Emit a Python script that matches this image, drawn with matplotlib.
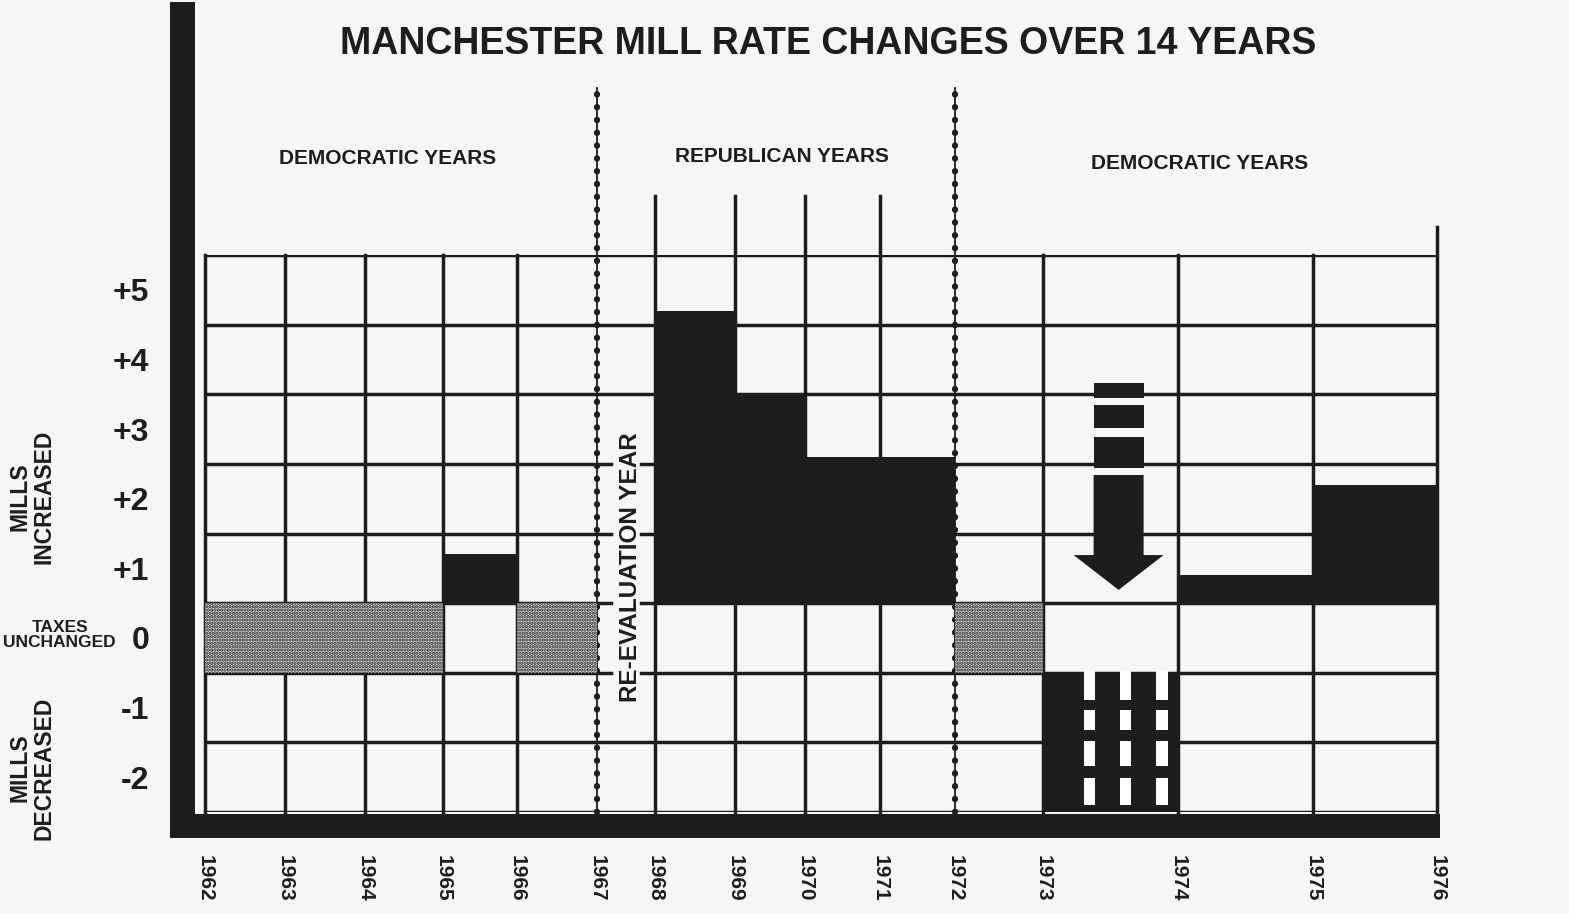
import numpy as np
import matplotlib.pyplot as plt
from matplotlib.patches import Rectangle, Polygon

plt.rcParams['font.family'] = ['Liberation Sans', 'DejaVu Sans']
plt.rcParams['hatch.linewidth'] = 1.6

# data: mill rate change for each year (re-evaluation year has no value)
years = [str(y) for y in range(1962, 1977)]
mill_change = np.array([0, 0, 0, 0.7, 0, np.nan, 4.2, 3.0, 2.1, 2.1, 0, -2.0, 0.4, 1.7])
level_labels = ['-2', '-1', '0', '+1', '+2', '+3', '+4', '+5']
level_ticks = [-2, -1, 0, 1, 2, 3, 4, 5]

# layout: column widths of the printed grid
col_widths = np.array([80, 80, 78, 74, 80, 58, 80, 70, 75, 75, 88, 135, 135, 124])
edges = np.concatenate([[0], np.cumsum(col_widths)])
lefts = edges[:-1]
reeval = 5
party_breaks = [5, 10]

ink = '#1d1d1d'
paper = '#f6f6f4'

fig = plt.figure(figsize=(15.69, 9.14), dpi=100, facecolor=paper)
ax = fig.add_axes([205/1569, 102/914, 1232/1569, 557/914])
ax.set_xlim(0, edges[-1])
ax.set_ylim(-2.5, 5.5)
ax.patch.set_visible(False)
for s in ax.spines.values():
    s.set_visible(False)

# grid
gl = 2.5
for y in np.arange(-2.5, 6, 1.0):
    if -1 < y < 3:
        a, b = edges[reeval], edges[reeval + 1]
        ax.plot([0, a + 14], [y, y], color=ink, lw=gl, zorder=2)
        ax.plot([b - 14, edges[-1]], [y, y], color=ink, lw=gl, zorder=2)
    else:
        ax.plot([0, edges[-1]], [y, y], color=ink, lw=gl, zorder=2)

for i, x in enumerate(edges):
    if i in party_breaks:
        ax.plot([x, x], [-2.5, 7.9], color=ink, lw=1.3, zorder=2, clip_on=False)
        ax.plot([x, x], [-2.5, 7.9], color=ink, lw=4.5, ls=(0, (0.05, 2.0)),
                dash_capstyle='round', zorder=2, clip_on=False)
        continue
    top = 5.5
    if 6 <= i <= 9:
        top = 6.35
    elif i == len(edges) - 1:
        top = 5.9
    ax.plot([x, x], [-2.5, top], color=ink, lw=gl, zorder=2, clip_on=False)

# bars
pos = mill_change > 0
zero = mill_change == 0
neg = mill_change < 0
ax.bar(lefts[pos], mill_change[pos], width=col_widths[pos], bottom=0.5,
       align='edge', color=ink, zorder=3)
ax.bar(lefts[zero], 1.0, width=col_widths[zero], bottom=-0.5, align='edge',
       facecolor='#cfcfcf', edgecolor='#2a2a2a', hatch='.....', lw=0, zorder=3)
ax.bar(lefts[neg], mill_change[neg], width=col_widths[neg], bottom=-0.5,
       align='edge', color=ink, zorder=3)

# windows in the decrease bar and the arrow above it
for i in np.where(neg)[0]:
    x0, w = lefts[i], col_widths[i]
    for fx in (0.3, 0.57, 0.84):
        for y0, y1 in ((-0.89, -0.47), (-1.32, -1.03), (-1.84, -1.48), (-2.40, -2.01)):
            ax.add_patch(Rectangle((x0 + fx * w, y0), 0.085 * w, y1 - y0,
                                   facecolor='white', lw=0, zorder=4))
    cx = x0 + 0.56 * w
    for y0, y1 in ((3.45, 3.66), (3.01, 3.35), (2.44, 2.88)):
        ax.add_patch(Rectangle((cx - 25, y0), 50, y1 - y0, facecolor=ink, lw=0, zorder=4))
    ax.add_patch(Polygon([(cx - 25, 2.34), (cx + 25, 2.34), (cx + 25, 1.19),
                          (cx + 45, 1.19), (cx, 0.69), (cx - 45, 1.19), (cx - 25, 1.19)],
                         closed=True, facecolor=ink, lw=0, zorder=4))

# heavy frame
ax.add_patch(Rectangle((-35, -2.87), 25, 12.0, facecolor=ink, lw=0, zorder=5, clip_on=False))
ax.add_patch(Rectangle((-22, -2.87), edges[-1] + 25, 0.34, facecolor=ink, lw=0, zorder=5, clip_on=False))

# ticks
ax.set_yticks(level_ticks)
ax.set_yticklabels(level_labels, fontsize=23, fontweight='bold', color=ink)
ax.set_xticks(edges)
ax.set_xticklabels(years, rotation=-90, fontsize=15, fontweight='bold', color=ink, va='top')
ax.tick_params(axis='y', length=0, pad=40)
ax.tick_params(axis='x', length=0, pad=31)

# headers
hdr = dict(fontsize=15, fontweight='bold', color=ink, ha='center', va='center')
ax.text(183, 6.89, 'DEMOCRATIC YEARS', **hdr)
ax.text(577, 6.91, 'REPUBLICAN YEARS', **hdr)
ax.text(995, 6.82, 'DEMOCRATIC YEARS', **hdr)
ax.text(425, 1.02, 'RE-EVALUATION YEAR', rotation=90,
        fontsize=17.5, fontweight='bold', color=ink, ha='center', va='center', zorder=6)

# side labels
side = dict(fontsize=16.5, fontweight='bold', color=ink, ha='center', va='center',
            multialignment='center', linespacing=1.0)
fig.text(32/1569, 1 - 497/914, 'MILLS\nINCREASED', rotation=90, **side)
fig.text(32/1569, 1 - 768/914, 'MILLS\nDECREASED', rotation=90, **side)
fig.text(116/1569, 1 - 635/914, 'TAXES\nUNCHANGED', fontsize=12.5, fontweight='bold', color=ink,
         ha='right', va='center', multialignment='center', linespacing=1.05)

fig.text(828/1569, 1 - 44/914, 'MANCHESTER MILL RATE CHANGES OVER 14 YEARS',
         fontsize=27, fontweight='bold', color=ink, ha='center', va='center')

fig.savefig('out.png', dpi=100, facecolor=paper)
